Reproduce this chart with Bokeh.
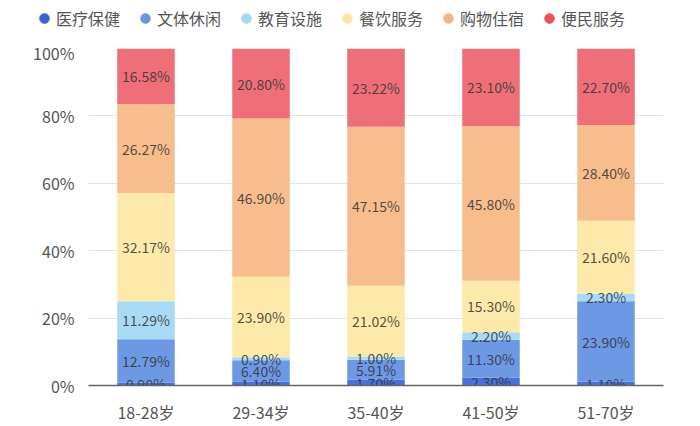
from bokeh.plotting import figure
from bokeh.models import (Range1d, FixedTicker, PrintfTickFormatter, Legend, LegendItem,
                          ColumnDataSource)
from bokeh.layouts import column, row
from bokeh.core.properties import value
from bokeh.embed import file_html
from bokeh.resources import INLINE

categories = ["18-28岁", "29-34岁", "35-40岁", "41-50岁", "51-70岁"]
series = ["医疗保健", "文体休闲", "教育设施", "餐饮服务", "购物住宿", "便民服务"]
medical = [0.90, 1.10, 1.70, 2.30, 1.10]
leisure = [12.79, 6.40, 5.91, 11.30, 23.90]
education = [11.29, 0.90, 1.00, 2.20, 2.30]
dining = [32.17, 23.90, 21.02, 15.30, 21.60]
shopping = [26.27, 46.90, 47.15, 45.80, 28.40]
services = [16.58, 20.80, 23.22, 23.10, 22.70]
y_ticks = [0, 20, 40, 60, 80, 100]

values = [medical, leisure, education, dining, shopping, services]
bar_colors = ["#4a70d9", "#6c98e4", "#a9daf5", "#fde9a9", "#f7bd8d", "#ee6f78"]
legend_colors = ["#3b62d2", "#6a95e0", "#a5d8f3", "#fbe7a2", "#f3b487", "#e8535e"]

FONT = "Noto Sans CJK SC"

data = {"cat": categories}
for name, vals in zip(series, values):
    data[name] = vals
source = ColumnDataSource(data)

p = figure(width=700, height=386, x_range=categories, y_range=Range1d(0, 100),
           output_backend="svg", toolbar_location=None,
           min_border_left=88, min_border_right=37, min_border_top=8, min_border_bottom=36)
p.x_range.range_padding = 0
p.outline_line_color = None

p.vbar_stack(series, x="cat", width=0.5, source=source, color=bar_colors, line_width=0)

# segment labels
lx, ly, lt = [], [], []
for i, c in enumerate(categories):
    base = 0.0
    for vals in values:
        v = vals[i]
        lx.append(c)
        ly.append(base + v / 2)
        lt.append(f"{v:.2f}%")
        base += v
p.text(x=lx, y=ly, text=lt, text_align="center", text_baseline="middle",
       text_font=value(FONT), text_font_size="14px", text_color="#333333", text_alpha=0.85)

# axes
p.yaxis.ticker = FixedTicker(ticks=y_ticks)
p.yaxis.formatter = PrintfTickFormatter(format="%d%%")
p.yaxis.axis_line_color = None
p.yaxis.major_tick_line_color = None
p.yaxis.minor_tick_line_color = None
p.yaxis.major_label_standoff = 8
p.yaxis.major_label_text_font = FONT
p.yaxis.major_label_text_font_size = "16px"
p.yaxis.major_label_text_color = "#555555"

p.xaxis.axis_line_color = "#666666"
p.xaxis.axis_line_width = 1.5
p.xaxis.major_tick_line_color = None
p.xaxis.minor_tick_line_color = None
p.xaxis.major_label_standoff = 8
p.xaxis.major_label_text_font = FONT
p.xaxis.major_label_text_font_size = "16px"
p.xaxis.major_label_text_color = "#555555"

p.xgrid.grid_line_color = None
p.ygrid.ticker = FixedTicker(ticks=y_ticks)
p.ygrid.grid_line_color = "#e3e3e3"
p.ygrid.grid_line_width = 1.2

# legend figure with circle markers (marker points lie outside its visible range)
lf = figure(width=700, height=40, x_range=Range1d(0, 1), y_range=Range1d(0, 1),
            output_backend="svg", toolbar_location=None,
            x_axis_location=None, y_axis_location=None, min_border=0)
lf.outline_line_color = None
lf.xgrid.visible = False
lf.ygrid.visible = False
items = []
for name, col in zip(series, legend_colors):
    r = lf.scatter(x=[-5], y=[-5], marker="circle", color=col)
    items.append(LegendItem(label=name, renderers=[r]))
legend = Legend(items=items, location=(32, 10), orientation="horizontal",
                border_line_color=None, background_fill_alpha=0,
                label_text_font=FONT, label_text_font_size="16px",
                label_text_color="#555555",
                glyph_width=24, glyph_height=24, label_standoff=-1,
                spacing=13, padding=0, margin=0)
lf.add_layout(legend, "center")

layout = column(row(lf), p, spacing=0)
open("out.html", "w").write(file_html(layout, INLINE))
